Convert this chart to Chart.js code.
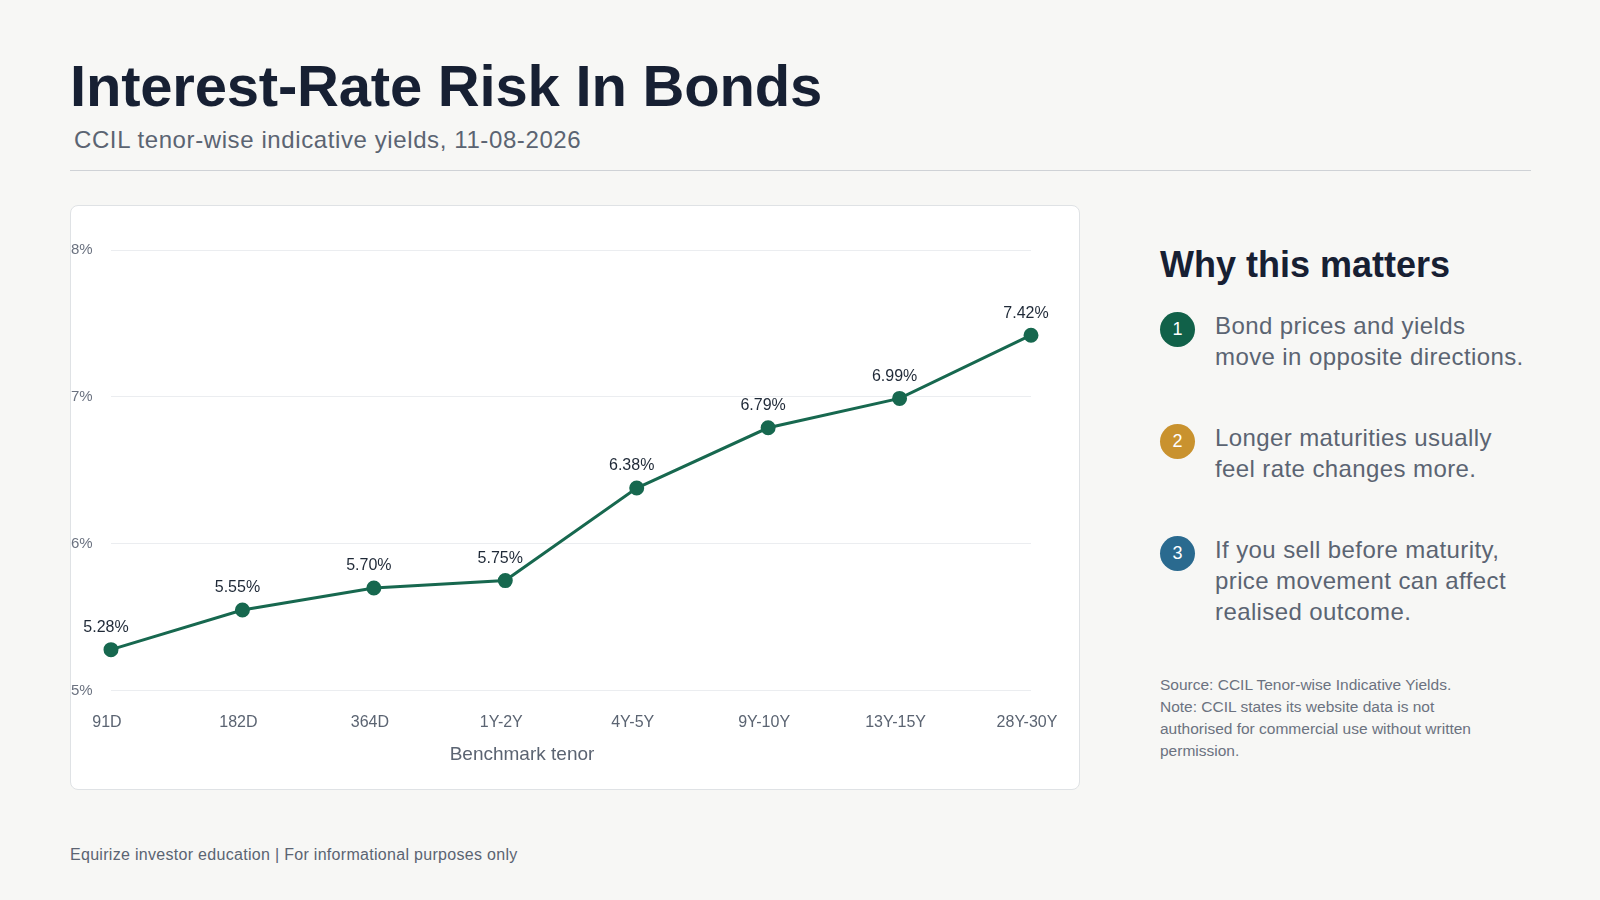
<!doctype html>
<html lang="en">
<head>
<meta charset="utf-8" />
<script src="https://cdn.jsdelivr.net/npm/chart.js@4.4.3/dist/chart.umd.min.js"></script>
<style>
  body { margin: 0; width: 1600px; height: 900px; background: #f7f7f5; font-family: "Liberation Sans", Arial, sans-serif; position: relative; overflow: hidden; }
  h1 { position: absolute; left: 70px; top: 52px; margin: 0; font-size: 58px; font-weight: bold; color: #172033; letter-spacing: -0.2px; }
  .sub { position: absolute; left: 74px; top: 126px; font-size: 24px; letter-spacing: 0.6px; color: #5b6472; }
  .rule { position: absolute; left: 70px; top: 170px; width: 1461px; height: 1px; background: #cfd2d6; }
  .card { position: absolute; left: 70px; top: 205px; width: 1010px; height: 585px; background: #fff; border: 1px solid #dfe2e5; border-radius: 8px; box-sizing: border-box; }
  .side { position: absolute; left: 1160px; top: 244px; width: 440px; }
  .side h2 { margin: 0 0 24px; font-size: 36px; color: #172033; }
  .item { display: flex; align-items: flex-start; height: 112px; }
  .num { flex: none; width: 35px; height: 35px; border-radius: 50%; color: #fff; font-size: 18px; display: flex; align-items: center; justify-content: center; margin-right: 20px; margin-top: 2px; }
  .txt { font-size: 24px; line-height: 31px; letter-spacing: 0.4px; color: #5b6472; width: 325px; }
  .note { margin-top: 2px; font-size: 15.5px; line-height: 22px; color: #6b7280; width: 350px; }
  .foot { position: absolute; left: 70px; top: 846px; font-size: 16px; letter-spacing: 0.3px; color: #5b6472; }
</style>
</head>
<body>
<h1>Interest-Rate Risk In Bonds</h1>
<div class="sub">CCIL tenor-wise indicative yields, 11-08-2026</div>
<div class="rule"></div>
<div class="card"><canvas id="chart"></canvas></div>
<div class="side">
  <h2>Why this matters</h2>
  <div class="item"><div class="num" style="background:#116149">1</div><div class="txt">Bond prices and yields<br>move in opposite directions.</div></div>
  <div class="item"><div class="num" style="background:#c9922e">2</div><div class="txt">Longer maturities usually<br>feel rate changes more.</div></div>
  <div class="item" style="height:138px"><div class="num" style="background:#2a6a8f">3</div><div class="txt">If you sell before maturity,<br>price movement can affect<br>realised outcome.</div></div>
  <div class="note">Source: CCIL Tenor-wise Indicative Yields.<br>Note: CCIL states its website data is not authorised for commercial use without written permission.</div>
</div>
<div class="foot">Equirize investor education | For informational purposes only</div>
<script>
const tenors = ["91D", "182D", "364D", "1Y-2Y", "4Y-5Y", "9Y-10Y", "13Y-15Y", "28Y-30Y"];
const yields = [5.28, 5.55, 5.70, 5.75, 6.38, 6.79, 6.99, 7.42];
const yTicks = [5, 6, 7, 8];

const pointLabels = {
  id: "pointLabels",
  afterDatasetsDraw(chart) {
    const ctx = chart.ctx;
    const meta = chart.getDatasetMeta(0);
    ctx.save();
    ctx.font = "16px 'Liberation Sans', Arial, sans-serif";
    ctx.fillStyle = "#1f2937";
    ctx.textAlign = "center";
    ctx.textBaseline = "bottom";
    meta.data.forEach((pt, i) => {
      ctx.fillText(yields[i].toFixed(2) + "%", pt.x - 5, pt.y - 14);
    });
    // axis title
    const area = chart.chartArea;
    ctx.font = "19px 'Liberation Sans', Arial, sans-serif";
    ctx.fillStyle = "#5b6472";
    ctx.textBaseline = "middle";
    ctx.fillText("Benchmark tenor", (area.left + area.right) / 2 - 49, area.bottom + 64);
    ctx.restore();
  },
};

const canvas = document.getElementById("chart");
canvas.width = 1008; canvas.height = 583;
canvas.style.width = "1008px"; canvas.style.height = "583px";
new Chart(canvas, {
  type: "line",
  data: {
    labels: tenors,
    datasets: [{
      data: yields,
      borderColor: "#17684f",
      backgroundColor: "#17684f",
      borderWidth: 3,
      pointRadius: 6,
      pointHoverRadius: 6,
      tension: 0,
    }],
  },
  options: {
    responsive: false,
    animation: false,
    layout: { padding: { top: 44, right: 48, bottom: 43, left: 0 } },
    plugins: { legend: { display: false }, tooltip: { enabled: false } },
    scales: {
      x: {
        grid: { display: false },
        border: { display: false },
        afterFit(axis) { axis.paddingLeft = 0; axis.paddingRight = 0; },
        ticks: { color: "#5b6472", font: { size: 16 }, padding: 14, labelOffset: -4 },
      },
      y: {
        min: 5, max: 8,
        afterBuildTicks(axis) { axis.ticks = yTicks.map((v) => ({ value: v })); },
        afterFit(axis) { axis.width = 40; },
        grid: { color: "#ebedf0", drawTicks: false },
        border: { display: false },
        ticks: { color: "#6b7280", font: { size: 15 }, padding: 0, crossAlign: "far", callback: (v) => v + "%" },
      },
    },
  },
  plugins: [pointLabels],
});
</script>
</body>
</html>
